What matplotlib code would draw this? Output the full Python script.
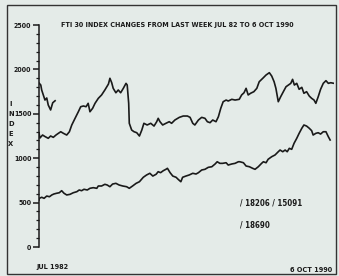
# FT 30 index chart, redrawn from an old screen photo
import numpy as np
import matplotlib
matplotlib.use("Agg")
import matplotlib.pyplot as plt
from matplotlib.patches import Rectangle

## data (x = months since Jul 1982, y = index value)

# short piece at the top left
mois_debut = [0.0, 0.6, 0.9, 2.0, 2.6, 3.1, 3.9, 4.6, 5.4]
val_debut = [1847, 1824, 1768, 1655, 1678, 1599, 1543, 1624, 1647]

# upper series
mois_haut = [0.0, 0.3, 1.2, 2.0, 3.1, 3.9, 4.8, 5.7, 6.5, 7.3, 8.2, 9.3, 10.2, 11.0,
             12.1, 13.2, 14.0, 14.9, 15.8, 16.5, 17.1, 18.0, 18.8, 19.9, 21.0, 22.1,
             23.3, 23.8, 24.4, 24.9, 25.8, 26.6, 27.4, 28.3, 29.2, 29.6, 30.1, 30.3,
             31.1, 31.9, 32.8, 33.7, 34.5, 35.2, 36.3, 37.5, 38.6, 39.5, 40.0, 40.6,
             41.5, 42.6, 43.7, 44.5, 45.6, 47.1, 48.4, 49.8, 50.7, 51.6, 52.3, 53.5,
             54.6, 55.7, 56.5, 57.4, 58.3, 59.4, 60.2, 61.0, 61.8, 62.8, 63.5, 64.7,
             65.8, 67.2, 68.0, 68.8, 69.5, 70.2, 71.0, 72.1, 73.1, 73.9, 75.1, 76.2,
             77.3, 78.1, 78.9, 79.5, 80.3, 81.1, 82.0, 82.9, 83.7, 84.5, 85.1, 85.7,
             86.5, 87.3, 88.2, 88.9, 89.8, 90.7, 91.5, 92.3, 92.9, 93.7, 94.5, 95.4,
             96.3, 97.1, 97.9, 99.0]
val_haut = [1287, 1227, 1261, 1244, 1224, 1250, 1235, 1261, 1280, 1298, 1280, 1261, 1298, 1374,
            1449, 1523, 1580, 1588, 1580, 1618, 1523, 1562, 1618, 1674, 1712, 1768,
            1835, 1900, 1850, 1787, 1737, 1768, 1737, 1787, 1843, 1824, 1618, 1393,
            1317, 1298, 1287, 1250, 1317, 1393, 1374, 1393, 1362, 1411, 1449, 1411,
            1374, 1393, 1411, 1393, 1430, 1460, 1475, 1475, 1460, 1393, 1374, 1430,
            1460, 1449, 1411, 1400, 1430, 1411, 1467, 1562, 1636, 1655, 1644, 1663,
            1655, 1663, 1712, 1737, 1787, 1712, 1731, 1749, 1787, 1861, 1900, 1937,
            1963, 1925, 1861, 1787, 1636, 1692, 1749, 1805, 1824, 1843, 1888, 1824,
            1843, 1776, 1798, 1731, 1749, 1700, 1674, 1655, 1618, 1692, 1776, 1843,
            1873, 1843, 1850, 1843]

# lower series
mois_bas = [0.0, 0.1, 0.9, 1.7, 2.6, 3.5, 4.3, 5.0, 5.9, 6.8, 7.6, 8.4, 9.3, 10.4,
            11.5, 12.7, 13.5, 14.3, 15.1, 16.2, 17.1, 18.2, 19.4, 19.9, 21.0, 22.1,
            22.9, 23.8, 24.7, 25.8, 26.9, 28.1, 29.4, 30.3, 31.4, 32.6, 33.7, 35.0,
            36.1, 37.2, 38.2, 39.3, 40.0, 40.8, 41.7, 42.6, 43.1, 44.0, 44.9, 46.0,
            46.7, 47.6, 48.2, 49.3, 50.4, 51.6, 52.7, 53.5, 54.6, 55.7, 56.8, 58.0,
            59.1, 59.8, 60.7, 61.6, 62.8, 63.5, 64.7, 65.8, 66.9, 67.4, 68.6, 69.5,
            70.6, 71.7, 72.5, 73.6, 74.7, 75.3, 76.2, 76.9, 78.1, 79.2, 80.3, 80.9,
            81.8, 82.6, 83.3, 84.0, 84.8, 85.6, 86.5, 87.3, 88.2, 88.9, 89.8, 90.7,
            91.5, 92.0, 92.9, 93.7, 94.5, 95.4, 96.3, 97.1, 97.7]
val_bas = [529, 548, 560, 548, 574, 566, 586, 597, 605, 611, 634, 605, 586, 593,
           611, 623, 642, 634, 650, 642, 661, 668, 661, 687, 687, 706,
           698, 679, 709, 717, 698, 687, 679, 661, 687, 717, 735, 785,
           811, 830, 799, 819, 848, 837, 859, 875, 886, 837, 799, 785,
           762, 735, 785, 799, 811, 830, 822, 837, 867, 875, 897, 904,
           935, 960, 942, 942, 949, 923, 935, 942, 960, 960, 949, 912,
           904, 886, 875, 904, 942, 960, 949, 988, 1017, 1036, 1073, 1092,
           1073, 1092, 1073, 1111, 1100, 1168, 1224, 1280, 1337, 1374, 1362, 1337,
           1310, 1261, 1280, 1287, 1272, 1298, 1298, 1242, 1205]

graduations = [0, 500, 1000, 1500, 2000, 2500]

## figure

fond = "#e4ebe8"
encre = "#1a1a1a"
police = dict(family="DejaVu Sans", fontweight="bold", fontstretch="condensed", color=encre)

fig = plt.figure(figsize=(3.39, 2.76), dpi=100)
fig.patch.set_facecolor(fond)

# cadre autour de l'ecran
fig.patches.append(Rectangle((7/339, 1-274/276), 329/339, 269/276, transform=fig.transFigure,
                             fill=False, edgecolor="#333333", linewidth=1.0))

ax = fig.add_axes([39/339, 1-247/276, 295/339, 222/276])
ax.patch.set_alpha(0)

ax.plot(mois_debut, val_debut, color=encre, linewidth=1.2)
ax.plot(mois_haut, val_haut, color=encre, linewidth=1.2)
ax.plot(mois_bas, val_bas, color=encre, linewidth=1.2)

ax.set_xlim(0, 99)
ax.set_ylim(0, 2500)
for s in ["top", "right", "bottom"]:
    ax.spines[s].set_visible(False)
ax.spines["left"].set_color(encre)
ax.spines["left"].set_linewidth(1.1)
ax.set_xticks([])
ax.set_yticks(graduations)
ax.set_yticklabels([str(g) for g in graduations])
for lab in ax.get_yticklabels():
    lab.set_fontsize(5.0)
    lab.set_fontweight("bold")
    lab.set_fontstretch("condensed")
    lab.set_color(encre)
ax.set_yticks(np.arange(0, 2501, 100), minor=True)
ax.tick_params(axis="y", which="major", length=4.5, width=1.1, color=encre, pad=1)
ax.tick_params(axis="y", which="minor", length=2.2, width=0.9, color=encre)

# textes
fig.text(177/339, 1-25/276, "FTI 30 INDEX CHANGES FROM LAST WEEK JUL 82 TO 6 OCT 1990",
         ha="center", va="center", fontsize=5.1, **police)
fig.text(11/339, 1-124/276, "I\nN\nD\nE\nX", ha="center", va="center",
         fontsize=5.4, linespacing=1.8, **police)
fig.text(52/339, 1-267/276, "JUL 1982", ha="center", va="center", fontsize=5.2, **police)
fig.text(311/339, 1-270/276, "6 OCT 1990", ha="center", va="center", fontsize=5.2, **police)
fig.text(240/339, 1-203/276, "/ 18206 / 15091", ha="left", va="center", fontsize=5.7, **police)
fig.text(240/339, 1-225/276, "/ 18690", ha="left", va="center", fontsize=5.7, **police)

fig.savefig("out.png", dpi=100, facecolor=fond)
